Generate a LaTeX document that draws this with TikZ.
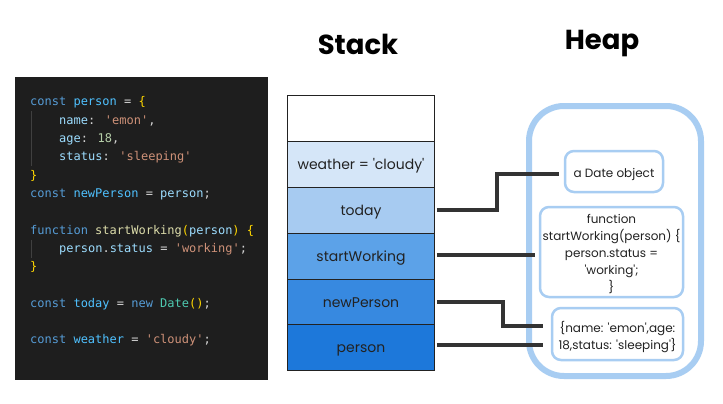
\documentclass[tikz,border=0pt]{standalone}
\usepackage{fontspec}
\newfontfamily\lab{Poppins}
\newfontfamily\labb{Poppins Bold}
\newfontfamily\code{DejaVu Sans Mono}
\usetikzlibrary{calc}
\definecolor{codebg}{HTML}{1E1E1E}
\definecolor{kw}{HTML}{569CD6}
\definecolor{cv}{HTML}{4FC1FF}
\definecolor{vr}{HTML}{9CDCFE}
\definecolor{st}{HTML}{CE9178}
\definecolor{nm}{HTML}{B5CEA8}
\definecolor{br}{HTML}{FFD700}
\definecolor{fn}{HTML}{DCDCAA}
\definecolor{cls}{HTML}{4EC9B0}
\definecolor{pl}{HTML}{D4D4D4}
\definecolor{guide}{HTML}{404040}
\definecolor{s0}{HTML}{FFFFFF}
\definecolor{s1}{HTML}{D5E6F8}
\definecolor{s2}{HTML}{A7CBF1}
\definecolor{s3}{HTML}{5CA2E8}
\definecolor{s4}{HTML}{3789E0}
\definecolor{s5}{HTML}{1D78DA}
\definecolor{heapc}{HTML}{A8CDF2}
\definecolor{conc}{HTML}{333333}
\definecolor{txt}{HTML}{222222}
\begin{document}
\begin{tikzpicture}[x=1pt,y=-1pt,
  codeline/.style={anchor=base west,inner sep=0pt,font=\code\fontsize{12}{14}\selectfont,text=pl},
  cell/.style={draw=txt,line width=0.8pt,minimum width=147pt,minimum height=46pt,inner sep=0pt,text height=12pt,text depth=2pt,text=txt,font=\lab\fontsize{14}{16}\selectfont},
  title/.style={font=\labb\fontsize{27.5}{31}\selectfont,text=black,inner sep=0pt},
  heapbox/.style={draw=heapc,line width=6pt,rounded corners=35pt,minimum width=172pt,minimum height=270pt,inner sep=0pt},
  obj/.style={draw=heapc,line width=2.5pt,rounded corners=9pt,inner sep=0pt},
  objtext/.style={inner sep=0pt,text=txt,align=center,font=\lab\fontsize{12}{17}\selectfont},
  conn/.style={draw=conc,line width=4pt,shorten <=2pt}
]
\useasboundingbox (0,0) rectangle (723,404);
\fill[white] (0,0) rectangle (723,404);
% code panel
\fill[codebg] (15,77) rectangle (268,380);
\draw[guide,line width=0.8pt] (31,111) -- (31,166);
\draw[guide,line width=0.8pt] (31,240) -- (31,258);
\node[codeline] (l0) at (30,106.0) {\textcolor{kw}{const} \textcolor{cv}{person} = \textcolor{br}{\{}};
\node[codeline] (l1) at (59,124.3) {\textcolor{vr}{name}: \textcolor{st}{'emon'},};
\node[codeline] (l2) at (59,142.6) {\textcolor{vr}{age}: \textcolor{nm}{18},};
\node[codeline] (l3) at (59,160.9) {\textcolor{vr}{status}: \textcolor{st}{'sleeping'}};
\node[codeline] (l4) at (30,179.2) {\textcolor{br}{\}}};
\node[codeline] (l5) at (30,197.5) {\textcolor{kw}{const} \textcolor{cv}{newPerson} = \textcolor{vr}{person};};
\node[codeline] (l7) at (30,234.1) {\textcolor{kw}{function} \textcolor{fn}{startWorking}\textcolor{br}{(}\textcolor{vr}{person}\textcolor{br}{)} \textcolor{br}{\{}};
\node[codeline] (l8) at (59,252.4) {\textcolor{vr}{person}.\textcolor{vr}{status} = \textcolor{st}{'working'};};
\node[codeline] (l9) at (30,270.7) {\textcolor{br}{\}}};
\node[codeline] (l11) at (30,307.3) {\textcolor{kw}{const} \textcolor{cv}{today} = \textcolor{kw}{new} \textcolor{cls}{Date}\textcolor{br}{()};};
\node[codeline] (l13) at (30,343.9) {\textcolor{kw}{const} \textcolor{cv}{weather} = \textcolor{st}{'cloudy'};};
% titles
\node[title] (stackt) at (358,44) {Stack};
\node[title] (heapt) at (602,44) {Heap};
% stack
\node[cell,fill=s0] (top) at (361,118) {};
\node[cell,fill=s1] (weather) at (361,164) {weather = 'cloudy'};
\node[cell,fill=s2] (today) at (361,210) {today};
\node[cell,fill=s3] (startw) at (361,256) {startWorking};
\node[cell,fill=s4] (newp) at (361,302) {newPerson};
\node[cell,fill=s5] (person) at (361,347) {person};
% heap
\node[heapbox] (heap) at (615,241) {};
\node[obj,minimum width=98pt,minimum height=41pt] (date) at (614,171.5) {};
\node[objtext] (datet) at ([yshift=-3pt]date.center) {a Date object};
\node[obj,minimum width=143pt,minimum height=90pt] (func) at (611.5,252) {};
\node[objtext] (funct) at ([yshift=-2.5pt]func.center) {function\\startWorking(person) \{\\person.status =\\'working';\\\}};
\node[obj,minimum width=131pt,minimum height=52pt] (pobj) at (617.5,334) {};
\node[objtext] (pobjt) at ([yshift=-3.5pt]pobj.center) {\{name: 'emon',age:\\18,status: 'sleeping'\}};
% connectors
\draw[conn] (today.east) -- ++(62,0) |- ([xshift=-5pt,yshift=-2pt]date.west);
\draw[conn] ([yshift=1pt]startw.east) -- ([yshift=1pt,xshift=-4pt]startw.east -| func.west);
\draw[conn] (newp.east) -- ++(68,0) |- ([yshift=8pt,xshift=-8pt]pobj.west);
\draw[conn] ([yshift=2pt]person.east) -- ([yshift=2pt,xshift=-8pt]person.east -| pobj.west);
\end{tikzpicture}
\end{document}
